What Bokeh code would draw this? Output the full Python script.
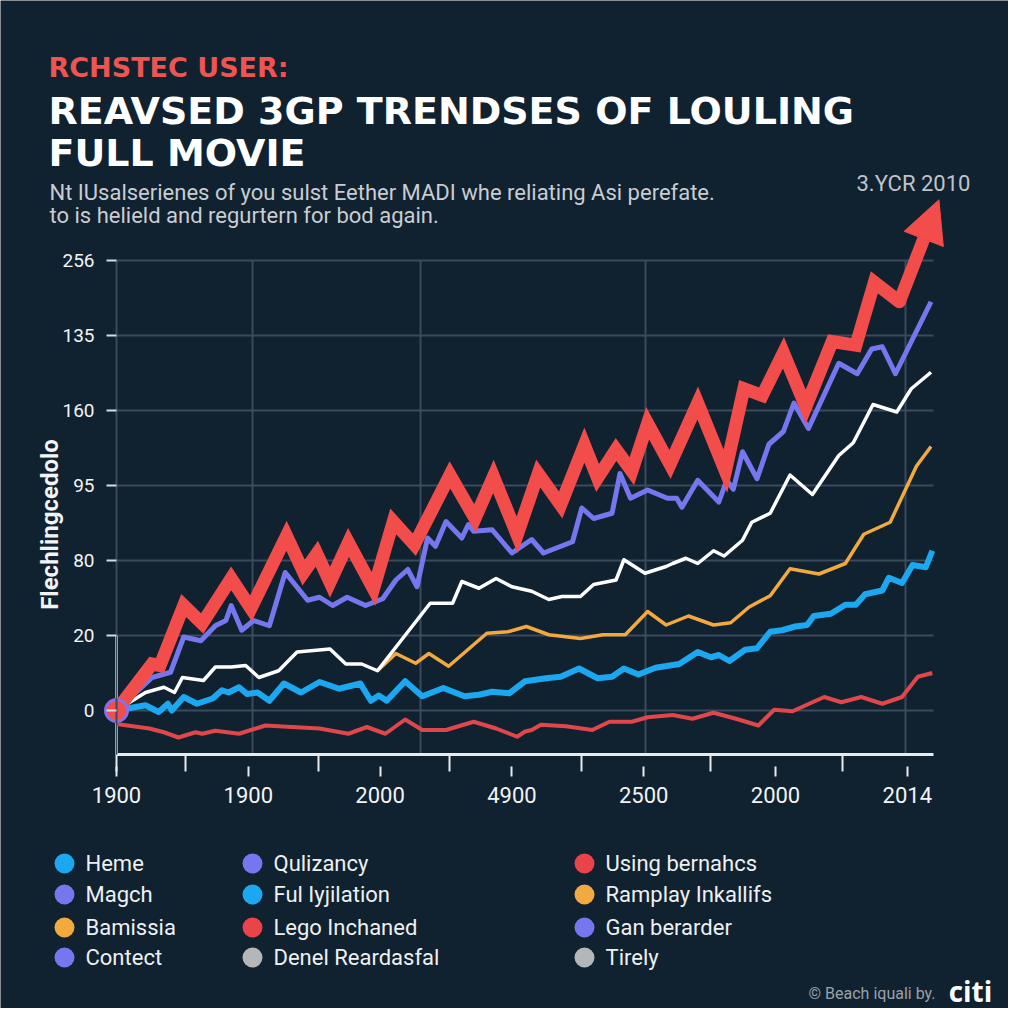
from bokeh.plotting import figure
from bokeh.models import Range1d, FixedTicker, Label, Arrow, NormalHead, Grid
from bokeh.embed import file_html
from bokeh.resources import INLINE

# ---------------- data ----------------
X_TICK_LABELS = ["1900", "1900", "2000", "4900", "2500", "2000", "2014"]
Y_TICK_LABELS = ["0", "20", "80", "95", "160", "135", "256"]

arrow_x = [0, 0.27, 0.33, 0.51, 0.65, 0.87, 1.02, 1.29, 1.42, 1.52, 1.62, 1.76, 1.95, 2.10, 2.26, 2.53,
           2.72, 2.86, 3.04, 3.20, 3.37, 3.55, 3.65, 3.79, 3.91, 4.03, 4.20, 4.41, 4.62, 4.76, 4.90,
           5.06, 5.23, 5.43, 5.61, 5.75, 5.94, 6.24]
arrow_y = [0, 0.62, 0.60, 1.40, 1.16, 1.76, 1.36, 2.33, 1.84, 2.09, 1.71, 2.24, 1.62, 2.52, 2.21, 3.14,
           2.56, 3.12, 2.34, 3.16, 2.74, 3.54, 3.10, 3.48, 3.19, 3.83, 3.28, 4.10, 3.19, 4.29, 4.20,
           4.77, 4.05, 4.92, 4.87, 5.71, 5.45, 6.81]

violet_x = [0, 0.27, 0.41, 0.51, 0.64, 0.75, 0.83, 0.87, 0.95, 1.04, 1.16, 1.28, 1.45, 1.54, 1.64, 1.75,
            1.89, 2.02, 2.12, 2.21, 2.28, 2.36, 2.42, 2.50, 2.62, 2.67, 2.71, 2.85, 3.00, 3.15, 3.24,
            3.46, 3.53, 3.62, 3.76, 3.82, 3.90, 4.03, 4.18, 4.25, 4.29, 4.41, 4.57, 4.63, 4.68, 4.75,
            4.86, 4.95, 5.06, 5.14, 5.25, 5.48, 5.62, 5.73, 5.81, 5.91, 6.18]
violet_y = [0, 0.44, 0.51, 0.98, 0.93, 1.13, 1.20, 1.40, 1.07, 1.20, 1.13, 1.84, 1.47, 1.51, 1.40, 1.51,
            1.40, 1.49, 1.74, 1.88, 1.65, 2.30, 2.19, 2.52, 2.30, 2.48, 2.39, 2.41, 2.10, 2.28, 2.10,
            2.25, 2.70, 2.56, 2.63, 3.16, 2.83, 2.94, 2.83, 2.83, 2.71, 3.07, 2.78, 3.07, 2.95, 3.45,
            3.09, 3.55, 3.72, 4.10, 3.76, 4.63, 4.49, 4.82, 4.85, 4.49, 5.45]

white_x = [0, 0.22, 0.36, 0.44, 0.50, 0.66, 0.75, 0.87, 0.98, 1.08, 1.23, 1.37, 1.62, 1.74, 1.86, 1.98,
           2.38, 2.55, 2.62, 2.75, 2.88, 3.00, 3.15, 3.28, 3.38, 3.52, 3.62, 3.79, 3.85, 4.01, 4.17,
           4.22, 4.32, 4.41, 4.53, 4.61, 4.75, 4.82, 4.96, 5.11, 5.28, 5.48, 5.59, 5.74, 5.92, 6.03, 6.18]
white_y = [0, 0.24, 0.31, 0.24, 0.44, 0.40, 0.58, 0.58, 0.60, 0.44, 0.53, 0.78, 0.82, 0.62, 0.62, 0.53,
           1.43, 1.43, 1.72, 1.63, 1.76, 1.65, 1.59, 1.48, 1.52, 1.52, 1.68, 1.74, 2.01, 1.83, 1.92,
           1.96, 2.03, 1.96, 2.13, 2.06, 2.27, 2.51, 2.63, 3.14, 2.88, 3.40, 3.57, 4.08, 3.98, 4.29, 4.51]

orange_x = [1.98, 2.12, 2.27, 2.37, 2.52, 2.81, 2.97, 3.11, 3.28, 3.52, 3.69, 3.86, 4.03, 4.17, 4.34,
            4.53, 4.66, 4.80, 4.96, 5.11, 5.33, 5.53, 5.67, 5.87, 6.07, 6.18]
orange_y = [0.53, 0.76, 0.63, 0.76, 0.59, 1.03, 1.05, 1.12, 1.01, 0.96, 1.01, 1.01, 1.32, 1.14, 1.26,
            1.14, 1.17, 1.38, 1.53, 1.89, 1.82, 1.96, 2.35, 2.51, 3.26, 3.52]

sky_x = [0, 0.22, 0.32, 0.39, 0.42, 0.51, 0.61, 0.73, 0.80, 0.85, 0.93, 0.99, 1.07, 1.16, 1.27, 1.40,
         1.54, 1.69, 1.85, 1.93, 1.99, 2.05, 2.19, 2.32, 2.48, 2.64, 2.75, 2.85, 2.98, 3.10, 3.26, 3.37,
         3.51, 3.65, 3.76, 3.85, 3.96, 4.09, 4.27, 4.41, 4.51, 4.57, 4.65, 4.77, 4.86, 4.96, 5.05, 5.15,
         5.24, 5.29, 5.42, 5.53, 5.61, 5.68, 5.81, 5.86, 5.96, 6.04, 6.14, 6.19]
sky_y = [0, 0.07, -0.02, 0.09, 0.0, 0.18, 0.09, 0.16, 0.27, 0.24, 0.31, 0.22, 0.24, 0.13, 0.36, 0.24,
         0.38, 0.29, 0.36, 0.13, 0.20, 0.13, 0.39, 0.19, 0.30, 0.19, 0.21, 0.25, 0.23, 0.39, 0.43, 0.45,
         0.56, 0.43, 0.45, 0.56, 0.48, 0.57, 0.62, 0.78, 0.71, 0.74, 0.66, 0.81, 0.83, 1.05, 1.07, 1.12,
         1.14, 1.26, 1.29, 1.41, 1.41, 1.55, 1.60, 1.77, 1.70, 1.94, 1.91, 2.13]

red_x = [0, 0.25, 0.36, 0.47, 0.60, 0.65, 0.75, 0.93, 1.13, 1.33, 1.54, 1.76, 1.90, 2.04, 2.19, 2.32,
         2.50, 2.71, 2.88, 3.04, 3.10, 3.15, 3.22, 3.41, 3.61, 3.74, 3.91, 4.03, 4.22, 4.37, 4.53, 4.70,
         4.87, 4.99, 5.13, 5.28, 5.37, 5.50, 5.65, 5.81, 5.96, 6.08, 6.19]
red_y = [-0.18, -0.24, -0.29, -0.36, -0.29, -0.31, -0.27, -0.31, -0.20, -0.22, -0.24, -0.31, -0.22,
         -0.31, -0.12, -0.26, -0.26, -0.15, -0.24, -0.35, -0.28, -0.26, -0.19, -0.21, -0.26, -0.15,
         -0.15, -0.09, -0.06, -0.11, -0.03, -0.11, -0.20, 0.01, -0.01, 0.11, 0.18, 0.11, 0.18, 0.09,
         0.18, 0.45, 0.50]

LEGEND_LABELS = ["Heme", "Magch", "Bamissia", "Contect",
                 "Qulizancy", "Ful Iyjilation", "Lego Inchaned", "Denel Reardasfal",
                 "Using bernahcs", "Ramplay Inkallifs", "Gan berarder", "Tirely"]
LEGEND_COLORS = ["#1ca8f0", "#7677ee", "#f2a93f", "#7677ee",
                 "#7677ee", "#1ca8f0", "#e8444a", "#b4b6b8",
                 "#e8444a", "#f2a93f", "#7677ee", "#b4b6b8"]

# ---------------- style / layout ----------------
BG = "#10212f"
GRID = "#3a4b5c"
AXIS_WHITE = "#e8ebee"
RED = "#f24d4b"
FONT = "Roboto"
TITLE_FONT = "DejaVu Sans"

W, H = 1008, 1008
ORIGIN_PX, ORIGIN_PY = 116, 710      # where x=0, y=0 sits on the canvas
PX_X, PX_Y = 131.8, 75.0             # pixels per data unit
X_START = -ORIGIN_PX / PX_X
X_END = X_START + W / PX_X
Y_END = ORIGIN_PY / PX_Y
Y_START = Y_END - H / PX_Y


def fx(px):
    return (px - ORIGIN_PX) / PX_X


def fy(py):
    return (ORIGIN_PY - py) / PX_Y


X_AXIS_Y = fy(754)          # level of the x axis line
PLOT_RIGHT = fx(933)        # right end of axis and grid lines
Y_TOP = len(Y_TICK_LABELS) - 1

p = figure(width=W, height=H, x_range=Range1d(X_START, X_END), y_range=Range1d(Y_START, Y_END),
           output_backend="svg", toolbar_location=None, title=None, min_border=0,
           background_fill_color=BG, border_fill_color=BG, outline_line_color=None)

# x axis (drawn inside the full-canvas frame)
xa = p.xaxis[0]
xa.fixed_location = X_AXIS_Y
xa.bounds = (0, PLOT_RIGHT)
xa.ticker = FixedTicker(ticks=list(range(len(X_TICK_LABELS))),
                        minor_ticks=[0, 0.52, 1.53, 2.53, 3.53, 4.51, 5.51])
xa.major_label_overrides = {i: t for i, t in enumerate(X_TICK_LABELS)}
xa.axis_line_color = AXIS_WHITE
xa.axis_line_width = 3
xa.major_tick_line_color = AXIS_WHITE
xa.major_tick_line_width = 2
xa.major_tick_in = -12
xa.major_tick_out = 22
xa.minor_tick_line_color = AXIS_WHITE
xa.minor_tick_line_width = 2
xa.minor_tick_in = 0
xa.minor_tick_out = 17
xa.major_label_text_color = "#f2f4f6"
xa.major_label_text_font = FONT
xa.major_label_text_font_size = "22px"
xa.major_label_standoff = 10

# y axis
ya = p.yaxis[0]
ya.fixed_location = 0
ya.bounds = (X_AXIS_Y, Y_TOP)
ya.ticker = FixedTicker(ticks=list(range(len(Y_TICK_LABELS))), minor_ticks=[])
ya.major_label_overrides = {i: t for i, t in enumerate(Y_TICK_LABELS)}
ya.axis_line_color = GRID
ya.axis_line_width = 2
ya.major_tick_line_color = "#d8dce0"
ya.major_tick_line_width = 2
ya.major_tick_in = 0
ya.major_tick_out = 10
ya.minor_tick_out = 0
ya.major_label_text_color = "#f2f4f6"
ya.major_label_text_font = FONT
ya.major_label_text_font_size = "19px"
ya.major_label_standoff = 12

# grid lines, limited to the plotting area
XGRID_AT = [1.03, 2.31, 4.01, 5.99]
has_cross = "cross_bounds" in Grid.properties()
if has_cross:
    p.xgrid.ticker = FixedTicker(ticks=XGRID_AT)
    p.xgrid.bounds = (0, PLOT_RIGHT)
    p.xgrid.cross_bounds = (X_AXIS_Y, Y_TOP)
    p.xgrid.grid_line_color = GRID
    p.xgrid.grid_line_width = 2
    p.ygrid.bounds = (X_AXIS_Y, Y_TOP)
    p.ygrid.cross_bounds = (0, PLOT_RIGHT)
    p.ygrid.grid_line_color = GRID
    p.ygrid.grid_line_width = 2
else:
    p.grid.visible = False
    yt = list(range(len(Y_TICK_LABELS)))
    p.segment(x0=[0] * len(yt), y0=yt, x1=[PLOT_RIGHT] * len(yt), y1=yt,
              line_color=GRID, line_width=2, level="underlay")
    p.segment(x0=XGRID_AT, y0=[X_AXIS_Y] * len(XGRID_AT), x1=XGRID_AT, y1=[Y_TOP] * len(XGRID_AT),
              line_color=GRID, line_width=2, level="underlay")

# white lower part of the y axis
p.segment(x0=[0], y0=[X_AXIS_Y], x1=[0], y1=[1], line_color=AXIS_WHITE, line_width=3)

# series
p.line(red_x, red_y, line_color="#e0474b", line_width=4, line_join="round")
p.line(sky_x, sky_y, line_color="#1ca8f0", line_width=6, line_join="round")
p.line(orange_x, orange_y, line_color="#f2a93f", line_width=3.5, line_join="round")
p.line(white_x, white_y, line_color="#ffffff", line_width=3.5, line_join="round")
p.line(violet_x, violet_y, line_color="#7677ee", line_width=5, line_join="round")
p.line(arrow_x[:-1], arrow_y[:-1], line_color=RED, line_width=13, line_join="miter", line_cap="round")
p.add_layout(Arrow(end=NormalHead(size=42, fill_color=RED, line_color=RED, line_width=1),
                   x_start=arrow_x[-2], y_start=arrow_y[-2], x_end=arrow_x[-1], y_end=arrow_y[-1],
                   line_color=RED, line_width=13))
p.scatter([arrow_x[0]], [arrow_y[0]], size=22, fill_color=RED, line_color="#8c6fe3", line_width=3)


def label(px, py, text, size, color, font=FONT, style="normal", align="left",
          baseline="alphabetic", angle=0):
    p.add_layout(Label(x=fx(px), y=fy(py), text=text, text_font=font, text_font_style=style,
                       text_font_size=size, text_color=color, text_align=align,
                       text_baseline=baseline, angle=angle, angle_units="deg"))


# header
label(48, 67, "RCHSTEC USER:", "27px", "#ec5552", font=TITLE_FONT, style="bold")
label(48, 110, "REAVSED 3GP TRENDSES OF LOULING", "38px", "#ffffff", font=TITLE_FONT, style="bold")
label(48, 152, "FULL MOVIE", "38px", "#ffffff", font=TITLE_FONT, style="bold")
label(49, 192, "Nt IUsalserienes of you sulst Eether MADI whe reliating Asi perefate.", "22px", "#c9cdd2")
label(49, 215, "to is helield and regurtern for bod again.", "22px", "#c9cdd2")
label(856, 183, "3.YCR 2010", "22px", "#c0c4c8")
label(49, 524, "Flechlingcedolo", "24px", "#f2f4f6", style="bold", align="center",
      baseline="middle", angle=90)

# legend
COL_X = [64, 252, 584]
ROW_Y = [863, 894, 927, 957]
per_col = len(ROW_Y)
dot_px = [COL_X[i // per_col] for i in range(len(LEGEND_LABELS))]
dot_py = [ROW_Y[i % per_col] for i in range(len(LEGEND_LABELS))]
p.scatter([fx(v) for v in dot_px], [fy(v) for v in dot_py], size=20, fill_color=LEGEND_COLORS,
          line_color=None)
for lx, ly, lab in zip(dot_px, dot_py, LEGEND_LABELS):
    label(lx + 21, ly, lab, "22px", "#eef0f2", baseline="middle")

# footer
label(935, 993, "© Beach iquali by.", "16px", "#9aa2aa", align="right", baseline="middle")
label(970, 990, "citi", "28px", "#ffffff", font="Open Sans", style="bold", align="center",
      baseline="middle")

open("out.html", "w").write(file_html(p, INLINE))
